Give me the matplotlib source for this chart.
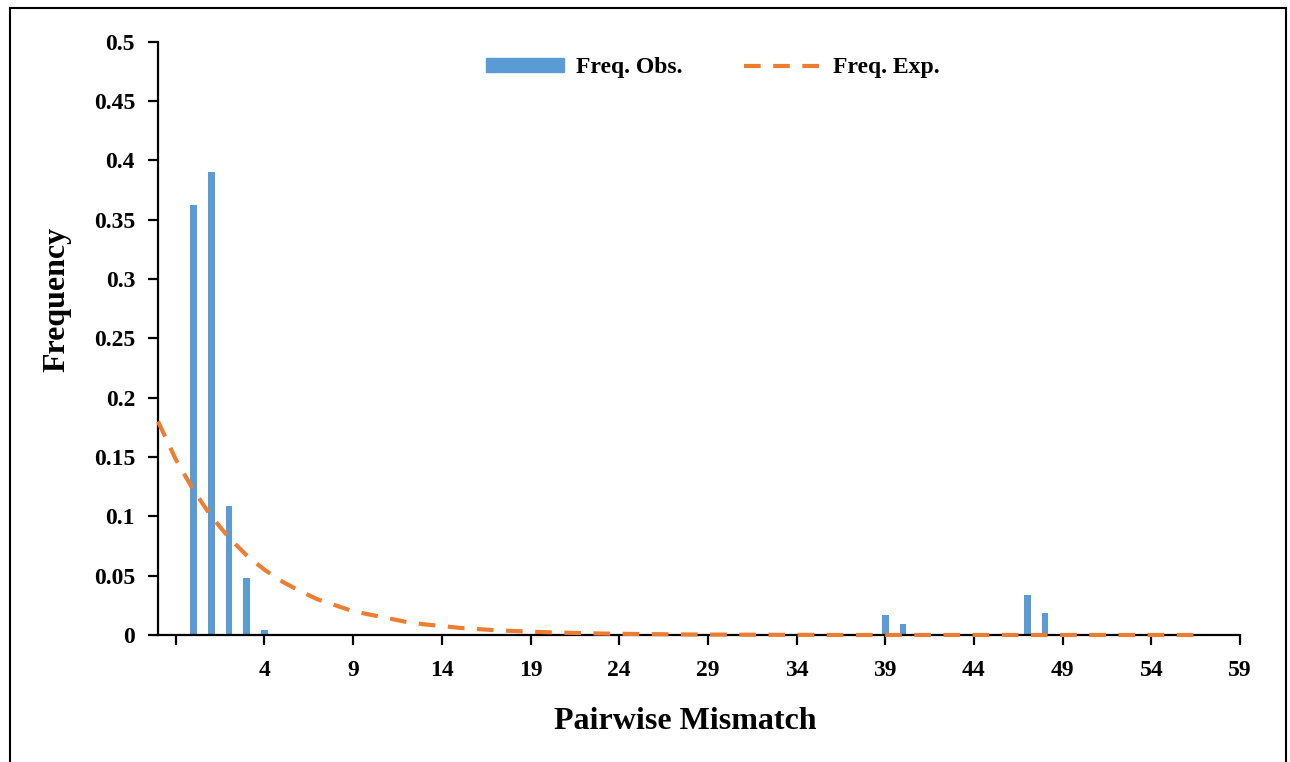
import matplotlib
matplotlib.use("Agg")
import matplotlib.pyplot as plt
from matplotlib.lines import Line2D

# Datos
obs_x = [0, 1, 2, 3, 4, 39, 40, 47, 48]
obs_freq = [0.362, 0.390, 0.109, 0.048, 0.004, 0.0165, 0.009, 0.0335, 0.0188]

exp_x = list(range(-2, 58))
exp_freq = [
    0.180, 0.148, 0.122, 0.100, 0.082, 0.067, 0.055, 0.045, 0.037, 0.030,
    0.025, 0.020, 0.017, 0.014, 0.011, 0.009, 0.0075, 0.006, 0.005, 0.004,
    0.0034, 0.0028, 0.0023, 0.0019, 0.0015, 0.0012, 0.0010, 0.0008, 0.0007, 0.0005,
    0.0004, 0.0003, 0.0003, 0.0002, 0.0002, 0.0001, 0.0001, 0.0001, 0.0, 0.0,
    0.0, 0.0, 0.0, 0.0, 0.0, 0.0, 0.0, 0.0, 0.0, 0.0,
    0.0, 0.0, 0.0, 0.0, 0.0, 0.0, 0.0, 0.0, 0.0, 0.0,
]

tick_pos = [-1, 4, 9, 14, 19, 24, 29, 34, 39, 44, 49, 54, 59]
tick_labels = [""] + [str(t) for t in tick_pos[1:]]
y_ticks = [0, 0.05, 0.1, 0.15, 0.2, 0.25, 0.3, 0.35, 0.4, 0.45, 0.5]
y_labels = ["0", "0.05", "0.1", "0.15", "0.2", "0.25", "0.3", "0.35", "0.4", "0.45", "0.5"]

plt.rcParams["font.family"] = ["Liberation Serif", "DejaVu Serif"]
plt.rcParams["font.weight"] = "bold"

fig = plt.figure(figsize=(12.9, 7.62), dpi=100)
ax = fig.add_axes([0.1225, 0.1667, 0.8388, 0.7786])

blue = "#5B9BD5"
orange = "#ED7D31"

ax.bar(obs_x, obs_freq, width=0.38, color=blue, zorder=2, label="Freq. Obs.")
ax.plot(exp_x, exp_freq, color=orange, lw=3, dashes=(4, 3), zorder=4,
        clip_on=False, label="Freq. Exp.")

ax.set_xlim(-2, 59)
ax.set_ylim(0, 0.5)
ax.set_xticks(tick_pos)
ax.set_xticklabels(tick_labels)
ax.set_yticks(y_ticks)
ax.set_yticklabels(y_labels)

for s in ["top", "right"]:
    ax.spines[s].set_visible(False)
for s in ["left", "bottom"]:
    ax.spines[s].set_linewidth(1.6)
    ax.spines[s].set_zorder(3)

ax.tick_params(axis="both", direction="out", length=7, width=1.6,
               labelsize=17)
ax.tick_params(axis="y", pad=9.5)
ax.tick_params(axis="x", pad=11)
for lab in ax.get_xticklabels() + ax.get_yticklabels():
    lab.set_fontweight("bold")

ax.set_xlabel("Pairwise Mismatch", fontsize=23, fontweight="bold", labelpad=19)
ax.set_ylabel("Frequency", fontsize=23, fontweight="bold", labelpad=16)
ax.xaxis.label.set_x(0.487)
ax.yaxis.label.set_y(0.565)

handles = [
    plt.Rectangle((0, 0), 1, 1, color=blue),
    Line2D([], [], color=orange, lw=3, dashes=(4, 3)),
]
ax.legend(handles, ["Freq. Obs.", "Freq. Exp."], loc="center",
          bbox_to_anchor=(0.513, 0.956), ncol=2, frameon=False,
          prop={"size": 17, "weight": "bold"}, handlelength=3.3,
          handleheight=0.55, columnspacing=2.6, handletextpad=0.5)

# marco exterior
fig.add_artist(Line2D([10 / 1290, 10 / 1290], [0, 1 - 8 / 762],
                      transform=fig.transFigure, color="black", lw=1.5))
fig.add_artist(Line2D([10 / 1290, 1286 / 1290], [1 - 8 / 762, 1 - 8 / 762],
                      transform=fig.transFigure, color="black", lw=1.5))
fig.add_artist(Line2D([1286 / 1290, 1286 / 1290], [0, 1 - 8 / 762],
                      transform=fig.transFigure, color="black", lw=1.5))

fig.savefig("out.png", dpi=100)
